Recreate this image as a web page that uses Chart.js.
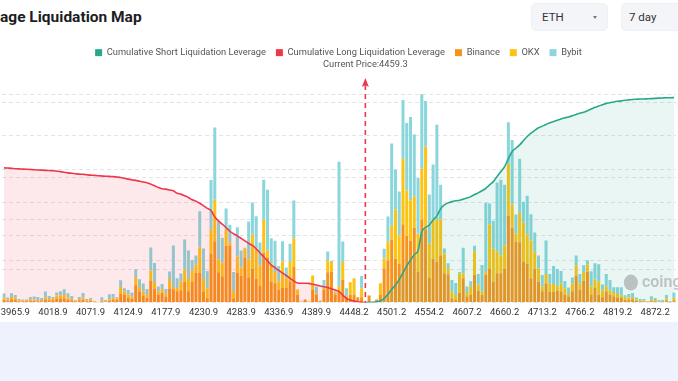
<!DOCTYPE html>
<html><head><meta charset="utf-8">
<script src="https://cdn.jsdelivr.net/npm/chart.js@4.4.1/dist/chart.umd.min.js"></script>
<style>
html,body{margin:0;padding:0;background:#fff;width:678px;height:381px;overflow:hidden;font-family:Roboto,"Noto Sans",sans-serif;}
#title{position:absolute;left:0;top:8px;font-size:15.5px;font-weight:700;color:#1d1d1f;white-space:nowrap;line-height:normal;}
.sel{position:absolute;top:3px;height:28px;background:#f3f5f8;border:1px solid #edf0f4;border-radius:5px;box-sizing:border-box;font-size:11.5px;color:#333;line-height:26px;}
#eth{left:531px;width:77px;padding-left:10px;}
#day{left:621px;width:80px;padding-left:7px;}
.caret{position:absolute;left:61px;top:12px;width:0;height:0;border-left:2.5px solid transparent;border-right:2.5px solid transparent;border-top:3.5px solid #777;}
#band{position:absolute;left:0;top:322px;width:678px;height:59px;background:#eef2fc;}
#wrap{position:absolute;left:0;top:0;width:678px;height:322px;}
</style></head><body>
<div id="title">age Liquidation Map</div>
<div class="sel" id="eth">ETH<span class="caret"></span></div>
<div class="sel" id="day">7 day</div>
<div id="band"></div>
<div id="wrap"><canvas id="c"></canvas></div>
<script>
const prices = ['3950.0','3955.3','3960.6','3965.9','3971.2','3976.5','3981.8','3987.1','3992.4','3997.7',
'4003.0','4008.3','4013.6','4018.9','4024.2','4029.5','4034.8','4040.1','4045.4','4050.7',
'4056.0','4061.3','4066.6','4071.9','4077.2','4082.5','4087.8','4093.1','4098.4','4103.7',
'4109.0','4114.3','4119.6','4124.9','4130.2','4135.5','4140.8','4146.1','4151.4','4156.7',
'4162.0','4167.3','4172.6','4177.9','4183.2','4188.5','4193.8','4199.1','4204.4','4209.7',
'4215.0','4220.3','4225.6','4230.9','4236.2','4241.5','4246.8','4252.1','4257.4','4262.7',
'4268.0','4273.3','4278.6','4283.9','4289.2','4294.5','4299.8','4305.1','4310.4','4315.7',
'4321.0','4326.3','4331.6','4336.9','4342.2','4347.5','4352.8','4358.1','4363.4','4368.7',
'4374.0','4379.3','4384.6','4389.9','4400.5','4405.8','4411.1','4416.4','4421.7','4427.0',
'4432.3','4437.6','4442.9','4448.2','4453.5','4458.8','4464.1','4469.4','4474.7','4480.0',
'4485.3','4490.6','4495.9','4501.2','4506.5','4511.8','4517.1','4522.4','4527.7','4533.0',
'4538.3','4543.6','4548.9','4554.2','4559.5','4564.8','4570.1','4575.4','4580.7','4586.0',
'4591.3','4596.6','4601.9','4607.2','4612.5','4617.8','4623.1','4628.4','4633.7','4639.0',
'4644.3','4649.6','4654.9','4660.2','4665.5','4670.8','4676.1','4681.4','4686.7','4692.0',
'4697.3','4702.6','4707.9','4713.2','4718.5','4723.8','4729.1','4734.4','4739.7','4745.0',
'4750.3','4755.6','4760.9','4766.2','4771.5','4776.8','4782.1','4787.4','4792.7','4798.0',
'4803.3','4808.6','4813.9','4819.2','4824.5','4829.8','4835.1','4840.4','4845.7','4851.0',
'4856.3','4861.6','4866.9','4872.2','4877.5','4882.8','4888.1','4893.4','4898.7'];

const xTickLabels = ['3965.9','4018.9','4071.9','4124.9','4177.9','4230.9','4283.9','4336.9','4389.9',
'4448.2','4501.2','4554.2','4607.2','4660.2','4713.2','4766.2','4819.2','4872.2'];

const currentPrice = 4459.3;

const binance = [0.9,0.6,1.0,0.9,0.4,0.4,0.4,0.6,0.6,0.4,
0.4,0.9,0.7,0.7,1.2,1.2,1.3,0.9,0.7,0.3,
0.7,0.9,0.4,0.6,0.2,0.1,0.4,0.3,0.6,0.9,
0.9,2.6,2.3,1.5,1.2,5.2,3.4,2.1,1.5,6.5,
4.2,2.4,2.9,1.8,4.2,4.0,3.4,3.7,6.2,3.4,
6.2,8.9,8.9,3.4,1.3,14.7,18.4,9.1,7.9,17.0,
17.1,1.3,8.9,8.1,13.5,7.6,10.1,7.1,5.0,15.0,
13.5,6.3,5.8,3.9,4.4,4.4,6.3,10.7,2.4,0.3,
0.9,0.2,3.9,2.4,0.3,3.9,9.1,9.3,2.4,3.4,
6.8,1.6,2.4,2.4,1.6,1.6,0.1,2.1,0.1,0.9,
2.4,10.3,12.6,18.9,13.2,11.7,23.5,20.1,18.6,22.5,
9.3,24.9,22.0,7.4,13.2,12.2,14.2,8.8,8.5,1.3,
0.8,2.9,7.3,1.9,2.3,8.3,3.6,2.3,8.3,10.1,
6.3,8.8,8.8,10.2,26.1,22.5,18.3,18.1,12.2,11.7,
7.3,10.2,6.3,3.4,5.8,3.2,3.2,3.6,3.4,2.4,
1.9,3.4,8.1,3.9,6.5,9.3,2.4,4.4,2.4,1.6,
3.4,2.4,1.9,1.6,1.4,0.9,0.9,1.0,0.6,0.4,
0.4,0.2,0.6,0.4,0.3,0.3,0.6,0.1,0.7];

const okx = [0.6,0.3,0.7,0.6,0.3,0.2,0.4,0.4,0.3,0.4,
0.4,0.6,0.4,0.6,0.9,1.0,1.0,0.6,0.4,0.3,
0.4,0.6,0.3,0.4,0.2,0.1,0.3,0.1,0.4,0.6,
0.3,2.1,1.0,0.9,0.7,2.4,1.3,1.2,0.8,3.1,
2.0,1.0,1.1,1.0,2.9,0.7,1.0,2.6,3.7,3.7,
3.4,2.6,7.6,3.7,2.9,7.1,12.4,3.9,4.1,4.9,
1.0,2.2,4.9,2.4,2.7,5.4,10.3,9.0,6.1,9.8,
2.0,5.4,3.4,2.4,7.9,2.9,5.9,8.5,1.5,0,
0,0.2,4.2,0.5,0.2,0.5,3.6,2.9,0.6,1.5,
5.4,0.4,3.7,4.9,0,2.7,0,0,0,0,
3.4,2.9,5.6,4.1,14.7,8.4,19.6,13.5,12.1,9.3,
11.3,15.2,24.7,10.3,11.8,12.7,10.8,5.9,1.8,2.1,
1.5,5.8,1.5,1.0,2.6,7.1,1.8,1.1,1.2,13.4,
9.8,6.6,5.4,6.9,15.5,6.9,2.5,8.8,11.8,8.8,
11.3,4.9,3.9,1.5,2.8,2.6,2.4,1.3,2.4,1.9,
0.7,2.4,3.1,1.9,2.7,2.1,2.4,2.5,3.9,2.0,
1.5,1.2,1.3,1.0,0.8,0.7,0.6,0.7,0.3,0.3,
0.3,0.1,0.4,0.4,0.1,0.1,0.6,0.1,0.7];

const bybit = [1.2,0.6,1.1,0.8,0.4,0.3,0.1,0.7,0.9,0.9,
0.6,1.8,0.9,0.4,0.9,1.2,1.7,1.3,0.9,0.2,
0.6,1.4,0.4,0.4,0.1,0,0.9,0.4,1.5,1.1,
0.4,2.0,1.0,1.4,1.1,2.4,2.3,2.4,1.8,6.9,
5.7,1.4,1.6,1.3,2.2,12.4,2.9,2.4,9.0,8.5,
3.2,2.6,10.9,9.1,5.3,14.9,21.7,11.3,7.4,6.3,
5.2,5.7,8.8,5.1,0.2,11.3,9.6,9.8,6.9,12.0,
18.3,7.6,9.3,4.7,6.1,3.2,5.4,11.4,0,0,
0,0,0,1.9,0.1,2.4,2.6,0.3,0.4,37.3,
6.1,2.3,0,0,0,3.7,0,0,0.1,0,
0,2.9,7.6,24.7,12.0,13.2,17.6,20.2,24.9,18.6,
16.7,22.3,13.7,14.7,16.4,28.4,10.3,1.5,1.5,3.4,
3.6,0.5,7.6,1.9,1.5,1.6,3.2,7.9,20.4,6.2,
8.4,20.6,22.6,18.2,12.4,19.3,5.6,16.2,6.2,11.5,
7.9,5.9,3.9,3.4,10.0,2.8,5.4,5.2,3.7,2.2,
1.9,1.7,2.9,2.8,2.0,1.3,4.6,4.9,5.2,1.8,
3.7,3.2,1.4,2.0,2.4,0.6,1.1,1.2,0.6,0.4,
0.4,0.2,0.9,0.6,0.4,0.4,1.1,0.2,1.6];

// cumulative long liquidation leverage: from first price level up to the current price
const longCum = [323,322.5,322,321,320.5,320,319.5,319,318.5,318,
317.5,317,316.5,316,315,314,312.5,311,310,309,
308,307.5,306.5,305.5,305,304,303.5,303,302.5,302,
301,300,298,296,294,293,291,289,287.5,284,
280,276,273,272,270,268,262,260,256,252,
246.5,243,238,232,226,221,205,196,188,180,
171,165,160,154,148,142,137,129,119,110,
100,90,84,77,71,65,58,52,47,46.5,
46.5,46,44,42,40,38,36,33,30,27,
18,10,6,3.5,2,1,0];

// cumulative short liquidation leverage: from the current price level to the last price level
const shortCum = [0,0.5,1,2,4,10,20,32,42,55,
72,88,102,115,125,170,180,186,198,208,
225,234,239,242,244,245.5,248,250.5,254,259,
263,268,274,282,290,302,314,326,345,362,
370,378,388,398,406,413,419,423,427,431,
434,437,440,443,445,448,451,454,456.5,460,
464,468,471,474.5,477.5,479,481,482.5,483.5,485,
486,487,487.5,488,488,488.5,489,489.5,490,490.5,
491,491,491.5];

const barTicks = [0,10,20,30,40,50,60];
const cumTicks = [0,100,200,300,400,500];

const C_SHORT = '#27a88b', C_LONG = '#f0364a', C_BIN = '#f7931a', C_OKX = '#fdc312', C_BYB = '#8bd6dc';

const longData = longCum.concat(new Array(prices.length - longCum.length).fill(null));
const shortData = new Array(prices.length - shortCum.length).fill(null).concat(shortCum);

const legendSpace = {
  id: 'legendSpace',
  beforeLayout(chart) {
    const lg = chart.legend;
    if (lg && !lg.__wrapped) {
      const f = lg.fit;
      lg.fit = function () { f.call(this); this.height += 26.7; };
      lg.__wrapped = true;
    }
  }
};

const marker = {
  id: 'marker',
  afterDatasetsDraw(chart) {
    const {ctx, chartArea, scales} = chart;
    let idx = prices.findIndex(p => parseFloat(p) >= currentPrice);
    const x = scales.x.getPixelForValue(idx);
    ctx.save();
    // watermark
    ctx.fillStyle = 'rgba(150,150,150,0.55)';
    ctx.beginPath();
    ctx.ellipse(chartArea.right - 45, chartArea.bottom - 20, 7, 8, 0, 0, Math.PI * 2);
    ctx.fill();
    ctx.font = '600 16px Roboto';
    ctx.textAlign = 'left';
    ctx.textBaseline = 'middle';
    ctx.fillStyle = 'rgba(160,160,160,0.6)';
    ctx.fillText('coinglass', chartArea.right - 34, chartArea.bottom - 20);
    // current price line
    ctx.strokeStyle = C_LONG;
    ctx.lineWidth = 1.6;
    ctx.setLineDash([5, 4]);
    ctx.beginPath();
    ctx.moveTo(x, chartArea.top - 9);
    ctx.lineTo(x, chartArea.bottom);
    ctx.stroke();
    ctx.setLineDash([]);
    ctx.fillStyle = C_LONG;
    ctx.beginPath();
    ctx.moveTo(x, chartArea.top - 16);
    ctx.lineTo(x - 3.5, chartArea.top - 7);
    ctx.lineTo(x, chartArea.top - 9);
    ctx.lineTo(x + 3.5, chartArea.top - 7);
    ctx.closePath();
    ctx.fill();
    ctx.fillStyle = '#555';
    ctx.font = '9.3px Roboto';
    ctx.textAlign = 'center';
    ctx.fillText('Current Price:' + currentPrice, x, chartArea.top - 29.3);
    ctx.restore();
  }
};

Chart.defaults.font.family = 'Roboto';

new Chart(document.getElementById('c'), {
  data: {
    labels: prices,
    datasets: [
      {type: 'line', label: 'Cumulative Short Liquidation Leverage', data: shortData, yAxisID: 'y2',
       borderColor: C_SHORT, backgroundColor: 'rgba(39,168,139,0.1)', fill: 'origin', pointRadius: 0,
       borderWidth: 1.6, cubicInterpolationMode: 'monotone', spanGaps: false},
      {type: 'line', label: 'Cumulative Long Liquidation Leverage', data: longData, yAxisID: 'y2',
       borderColor: C_LONG, backgroundColor: 'rgba(240,54,74,0.11)', fill: 'origin', pointRadius: 0,
       borderWidth: 1.6, cubicInterpolationMode: 'monotone', spanGaps: false},
      {type: 'bar', label: 'Binance', data: binance, backgroundColor: C_BIN, yAxisID: 'y', stack: 'ex',
       barPercentage: 0.8, categoryPercentage: 1},
      {type: 'bar', label: 'OKX', data: okx, backgroundColor: C_OKX, yAxisID: 'y', stack: 'ex',
       barPercentage: 0.8, categoryPercentage: 1},
      {type: 'bar', label: 'Bybit', data: bybit, backgroundColor: C_BYB, yAxisID: 'y', stack: 'ex',
       barPercentage: 0.8, categoryPercentage: 1}
    ]
  },
  options: {
    responsive: true,
    maintainAspectRatio: false,
    animation: false,
    layout: {padding: {top: 38, left: -1, right: 0, bottom: 0}},
    plugins: {
      tooltip: {enabled: false},
      legend: {
        position: 'top',
        labels: {
          boxWidth: 7, boxHeight: 7, padding: 10, color: '#555',
          font: {size: 9.3, family: 'Roboto'},
          generateLabels(chart) {
            return chart.data.datasets.map((ds, i) => {
              const col = ds.type === 'line' ? ds.borderColor : ds.backgroundColor;
              return {text: ds.label, fillStyle: col, strokeStyle: col, lineWidth: 0, hidden: false,
                      datasetIndex: i, fontColor: '#555'};
            });
          }
        }
      }
    },
    scales: {
      x: {
        stacked: true,
        grid: {display: false, drawTicks: false},
        border: {display: false},
        ticks: {
          autoSkip: false, maxRotation: 0, minRotation: 0, padding: 4, color: '#333',
          font: {size: 9.5, family: 'Roboto'},
          callback: function (v) {
            const l = this.getLabelForValue(v);
            return xTickLabels.includes(l) ? l : '';
          }
        }
      },
      y: {
        stacked: true, position: 'left', min: 0, max: 62.5,
        afterBuildTicks: s => { s.ticks = barTicks.map(v => ({value: v})); },
        ticks: {display: false},
        grid: {color: '#e4e4e4', drawTicks: false, lineWidth: 1},
        border: {display: false, dash: [4, 3]}
      },
      y2: {
        position: 'right', min: 0, max: 500,
        afterBuildTicks: s => { s.ticks = cumTicks.map(v => ({value: v})); },
        ticks: {display: false},
        grid: {color: '#e4e4e4', drawTicks: false, lineWidth: 1},
        border: {display: false, dash: [4, 3]}
      }
    }
  },
  plugins: [legendSpace, marker]
});
</script>
</body></html>
